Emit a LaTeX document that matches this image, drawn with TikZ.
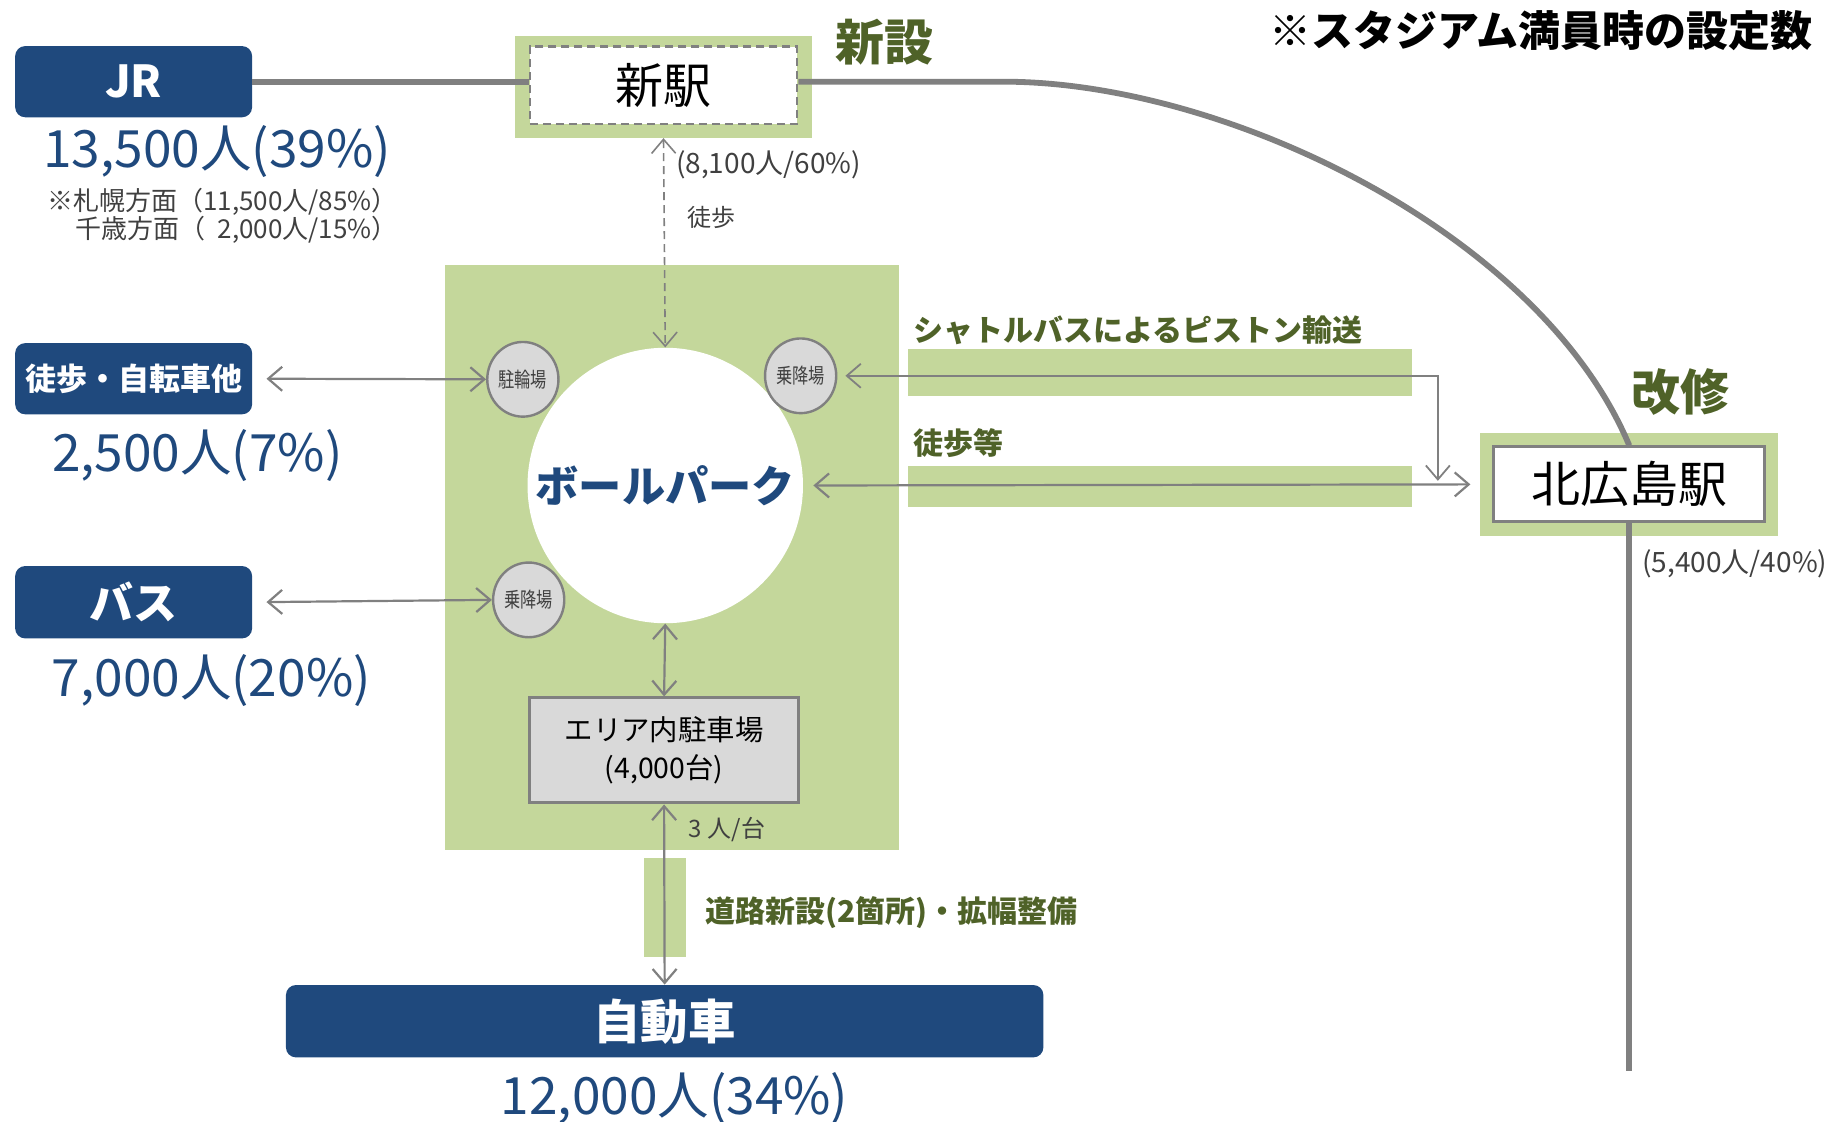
\documentclass[tikz,border=0pt]{standalone}
\usepackage{fontspec}
\usepackage{graphicx}
\setmainfont{Noto Sans CJK JP}
\usetikzlibrary{arrows.meta,shapes.geometric}

\definecolor{navy}{RGB}{31,73,125}
\definecolor{leaf}{RGB}{196,215,155}
\definecolor{moss}{RGB}{79,98,40}
\definecolor{railgray}{RGB}{128,128,128}
\definecolor{pale}{RGB}{217,217,217}
\definecolor{ink}{RGB}{64,64,64}

\newcommand\px{0.5835pt}
\newcommand\fsz[2]{\fontsize{#1}{#2}\selectfont}
\newcommand\narrow[1]{\scalebox{0.78}[1]{#1}}

\tikzset{
  navybox/.style={fill=navy, rounded corners=5pt, text=white, inner sep=0pt},
  pad/.style={fill=leaf, inner sep=0pt},
  stopnode/.style={ellipse, draw=railgray, line width=1.2pt, fill=pale, minimum width=61*\px, minimum height=64*\px, inner sep=0pt, text=ink, font=\fsz{10.4pt}{11pt}},
  railway/.style={draw=railgray, line width=2.9pt},
  link/.style={draw=railgray, line width=1.1pt, <->},
  note/.style={inner sep=0pt, text=ink},
  count/.style={inner sep=0pt, text=navy, font=\fsz{25.7pt}{30pt}},
  greenlabel/.style={inner sep=0pt, text=moss, font=\bfseries\fsz{15pt}{18pt}}
}

\begin{document}
\begin{tikzpicture}[x=0.5835pt,y=0.5835pt,yscale=-1,>={Straight Barb[length=7pt,width=12pt]}]
\useasboundingbox (0,0) rectangle (1568,961);

%Shape: Rectangle
\fill[leaf] (381,227) rectangle (770,728);
\fill[leaf] (778,299) rectangle (1210,339);
\fill[leaf] (778,399) rectangle (1210,434);
\fill[leaf] (552,735) rectangle (588,820);
\node[pad, minimum width=255*\px, minimum height=87*\px] (newpad) at (568.5,74.5) {};
\node[pad, minimum width=255*\px, minimum height=88*\px] (kitapad) at (1395.5,415) {};

%Shape: Rounded Rectangle
\node[navybox, minimum width=203*\px, minimum height=61*\px, font=\bfseries\fsz{22pt}{26pt}] (jr) at (114.5,70) {JR};
\node[navybox, minimum width=203*\px, minimum height=61*\px, font=\bfseries\fsz{15.5pt}{18pt}] (walkbox) at (114.5,324.5) {徒歩・自転車他};
\node[navybox, minimum width=203*\px, minimum height=62*\px, font=\bfseries\fsz{22pt}{26pt}] (busbox) at (114.5,516) {バス};
\node[navybox, minimum width=649*\px, minimum height=62*\px, font=\bfseries\fsz{23.7pt}{28pt}] (car) at (569.5,875) {自動車};

%Shape: Station boxes
\node[draw=railgray, dash pattern=on 4pt off 2.5pt, line width=1.2pt, fill=white, minimum width=229*\px, minimum height=66*\px, inner sep=0pt, font=\fsz{24pt}{28pt}] (newsta) at (568.5,73) {新駅};
\node[draw=railgray, line width=1.5pt, fill=white, minimum width=232*\px, minimum height=64*\px, inner sep=0pt, font=\fsz{24.5pt}{28pt}] (kita) at (1396,415) {北広島駅};

%Shape: Circle
\node[circle, fill=white, minimum size=236*\px, inner sep=0pt, text=navy, font=\bfseries\fsz{21.6pt}{25pt}] (park) at (570,416) {ボールパーク};
\node[stopnode] (bike) at (448,325) {\narrow{駐輪場}};
\node[stopnode] (stopa) at (686,322) {\narrow{乗降場}};
\node[stopnode] (stopb) at (453,514) {\narrow{乗降場}};

%Shape: Rectangle
\node[draw=railgray, line width=1.5pt, fill=pale, minimum width=230*\px, minimum height=90*\px, inner sep=0pt, align=center, font=\fsz{14.2pt}{19.3pt}] (parking) at (569,643) {エリア内駐車場\\(4,000台)};

% Text Node
\node[inner sep=0pt, font=\bfseries\fsz{21pt}{24pt}] (title) at (1320,26) {※スタジアム満員時の設定数};
% Text Node
\node[inner sep=0pt, text=moss, font=\bfseries\fsz{24.5pt}{28pt}] (newlabel) at (758,36) {新設};
% Text Node
\node[inner sep=0pt, text=moss, font=\bfseries\fsz{24.5pt}{28pt}] (renewlabel) at (1440,336) {改修};
% Text Node
\node[count] (jrcount) at (186,130) {13,500人(39\%)};
% Text Node
\node[note, anchor=east, align=right, font=\fsz{13pt}{14.2pt}] (jrsplit) at (341,185) {※札幌方面（11,500人/85\%）\\千歳方面（\ \ 2,000人/15\%）};
% Text Node
\node[note, anchor=west, font=\fsz{14pt}{16pt}] (newshare) at (579,141) {(8,100人/60\%)};
% Text Node
\node[note, anchor=west, font=\fsz{12pt}{14pt}] (newwalk) at (589,186) {徒歩};
% Text Node
\node[count] (walkcount) at (169,390) {2,500人(7\%)};
% Text Node
\node[count] (buscount) at (181,583) {7,000人(20\%)};
% Text Node
\node[count] (carcount) at (578,941) {12,000人(34\%)};
% Text Node
\node[note, anchor=west, font=\fsz{12pt}{14pt}] (perunit) at (590,711) {3 人/台};
% Text Node
\node[greenlabel, anchor=west] (roadlabel) at (604,782) {道路新設(2箇所)・拡幅整備};
% Text Node
\node[greenlabel, anchor=west] (shuttlelabel) at (782,283) {シャトルバスによるピストン輸送};
% Text Node
\node[greenlabel, anchor=west] (walklabel) at (782,380) {徒歩等};
% Text Node
\node[note, anchor=west, font=\fsz{14pt}{16pt}] (kitashare) at (1407,483) {(5,400人/40\%)};

%Straight Lines
\coordinate (bend) at (860,70);
\coordinate (railend) at (1396,918);
\draw[railway] (jr.east) -- (jr.east -| newsta.west);
%Curve Lines
\draw[railway] (newsta.east |- bend) -- (bend) .. controls (1050,70) and (1320,200) .. (kita.north);
\draw[railway] (kita.south) -- (railend);

%Arrows
\draw[link, line width=0.8pt, dash pattern=on 4pt off 2.5pt] (newpad.south) -- (park.north);
\draw[link, shorten <=7pt] (walkbox.east) -- (bike.west);
\draw[link, shorten <=7pt] (busbox.east) -- (stopb.west);
\draw[link] (park.south) -- (parking.north);
\draw[link] (parking.south) -- (car.north);
\draw[link, shorten <=5pt, shorten >=11pt] (park.east) -- (kita.west);
\coordinate (shuttleend) at (1232,412);
\draw[link, line width=0.9pt, shorten <=4pt] (stopa.east) -| (shuttleend);

\end{tikzpicture}
\end{document}
